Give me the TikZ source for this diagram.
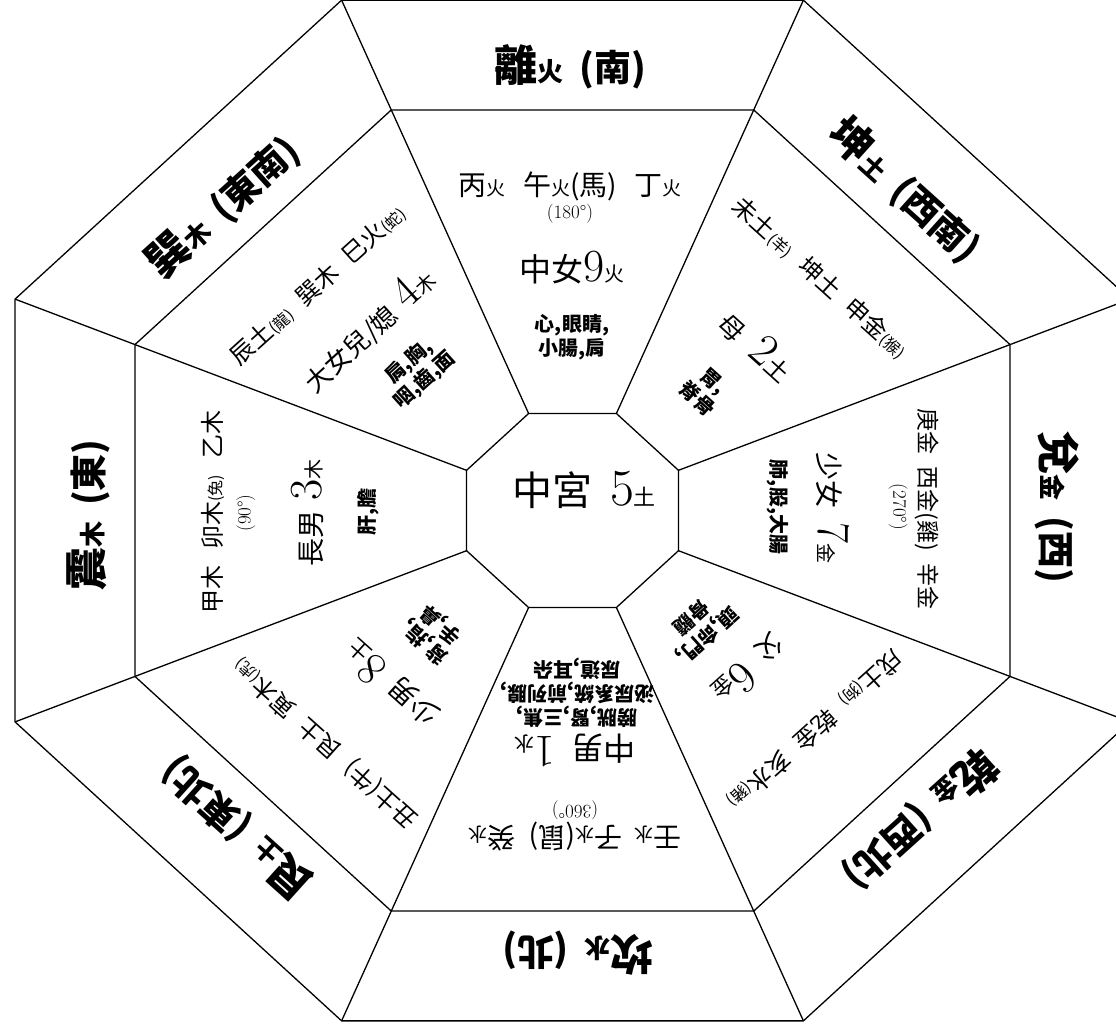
\documentclass[tikz,border=0pt]{standalone}
\usepackage{fontspec}
\newfontfamily\tc{Noto Sans CJK TC}
\newcommand\fsz[1]{\fontsize{#1}{#1}\selectfont}
\newcommand\gtitle[3]{\bfseries\fsz{43}#1\fsz{26}#2\hspace{16pt}\fsz{37}(#3)}
\newcommand\bignum[1]{{\rmfamily\fsz{46}#1}}
\newcommand\degr[1]{{\rmfamily\fsz{19}(#1°)}}
\begin{document}
\begin{tikzpicture}[x=1pt,y=-1pt,
  ln/.style={line width=1.3pt, line join=miter},
  tx/.style={inner sep=0pt, font=\tc, align=center},
  org/.style={inner sep=0pt, align=center, font=\tc\bfseries\fontsize{20}{24}\selectfont}]
\useasboundingbox (0,0) rectangle (1116,1028);
\clip (0,0) rectangle (1116,1028);
\begin{scope}[shift={(572.5,510.5)}, yscale=0.9155]
\foreach \k in {1,...,8}{
  \coordinate (i\k) at ({22.5+45*\k}:114.7);
  \coordinate (m\k) at ({22.5+45*\k}:473.6);
  \coordinate (o\k) at ({22.5+45*\k}:603.4);
}
\end{scope}
\draw[ln] (i1)--(i2)--(i3)--(i4)--(i5)--(i6)--(i7)--(i8)--cycle;
\draw[ln] (m1)--(m2)--(m3)--(m4)--(m5)--(m6)--(m7)--(m8)--cycle;
\draw[ln] (o1)--(o2)--(o3)--(o4)--(o5)--(o6)--(o7)--(o8)--cycle;
\foreach \k in {1,...,8}{ \draw[ln] (i\k)--(o\k); }

% South
\node[tx] (sT) at (570,67) {\gtitle{離}{火}{南}};
\node[tx] (s1) at (570,186) {\fsz{28}丙\fsz{19}火\hspace{18pt}\fsz{28}午\fsz{19}火\fsz{28}(馬)\hspace{18pt}丁\fsz{19}火};
\node[tx] (s2) at (570,214) {\degr{180}};
\node[tx] (s3) at (572,268) {\fsz{32}中女\bignum{9}\fsz{20}火};
\node[org] (s4) at (572,337) {心,眼睛,\\小腸,肩};

% South-west
\node[tx,rotate=-42] (swT) at (905,190) {\gtitle{坤}{土}{西南}};
\node[tx,rotate=-42] (sw1) at (820,278) {\fsz{24}未土\fsz{16}(羊)\hspace{14pt}\fsz{24}坤土\hspace{14pt}申金\fsz{16}(猴)};
\node[tx,rotate=-42] (sw2) at (757,345) {\fsz{26}母\hspace{16pt}\bignum{2}\fsz{24}土};
\node[org,rotate=-42] (sw3) at (705,390) {胃,\\脊骨};

% West
\node[tx,rotate=-90] (wT) at (1057,507) {\gtitle{兌}{金}{西}};
\node[tx,rotate=-90] (w1) at (927,509) {\fsz{23}庚金\hspace{12pt}西金(雞)\hspace{12pt}辛金};
\node[tx,rotate=-90] (w2) at (898,507) {\degr{270}};
\node[tx,rotate=-90] (w3) at (833,508) {\fsz{28}少女\hspace{14pt}\bignum{7}\fsz{20}金};
\node[org,rotate=-90] (w4) at (778,507) {肺,股,大腸};

% North-west
\node[tx,rotate=-138] (nwT) at (920,820) {\gtitle{乾}{金}{西北}};
\node[tx,rotate=-138] (nw1) at (815,730) {\fsz{24}戌土\fsz{16}(狗)\hspace{14pt}\fsz{24}乾金\hspace{14pt}亥水\fsz{16}(豬)};
\node[tx,rotate=-138] (nw2) at (750,670) {\fsz{26}父\hspace{16pt}\bignum{6}\fsz{22}金};
\node[org,rotate=-138] (nw3) at (700,627) {頭,命門,\\骨髓};

% North
\node[tx,rotate=180] (nT) at (578,953) {\gtitle{坎}{水}{北}};
\node[tx,rotate=180] (n1) at (575,837) {\fsz{28}壬\fsz{19}水\hspace{12pt}\fsz{28}子\fsz{19}水\fsz{28}(鼠)\hspace{14pt}癸\fsz{19}水};
\node[tx,rotate=180] (n2) at (575,810) {\degr{360}};
\node[tx,rotate=180] (n3) at (575,750) {\fsz{32}中男\hspace{16pt}\bignum{1}\fsz{20}水};
\node[org,rotate=180] (n4) at (577,693) {膀胱,腎,三焦,\\泌尿系統,前列腺,\\尿道,耳朵};

% North-east
\node[tx,rotate=138] (neT) at (237,828) {\gtitle{艮}{土}{東北}};
\node[tx,rotate=138] (ne1) at (325,743) {\fsz{24}丑土(牛)\hspace{14pt}艮土\hspace{14pt}寅木\fsz{16}(虎)};
\node[tx,rotate=138] (ne2) at (390,685) {\fsz{28}少男\hspace{14pt}\bignum{8}\fsz{22}土};
\node[org,rotate=138] (ne3) at (433,633) {背,指,\\手,鼻};

% East
\node[tx,rotate=90] (eT) at (88,515) {\gtitle{震}{木}{東}};
\node[tx,rotate=90] (e1) at (213,512) {\fsz{24}甲木\hspace{16pt}卯木\fsz{16}(兔)\hspace{16pt}\fsz{24}乙木};
\node[tx,rotate=90] (e2) at (246,513) {\degr{90}};
\node[tx,rotate=90] (e3) at (307,513) {\fsz{28}長男\hspace{10pt}\bignum{3}\fsz{20}木};
\node[org,rotate=90] (e4) at (368,512) {肝,膽};

% South-east
\node[tx,rotate=42] (seT) at (223,207) {\gtitle{巽}{木}{東南}};
\node[tx,rotate=42] (se1) at (318,285) {\fsz{24}辰土\fsz{16}(龍)\hspace{14pt}\fsz{24}巽木\hspace{14pt}巳火\fsz{16}(蛇)};
\node[tx,rotate=42] (se2) at (368,329) {\fsz{26}大女兒/媳\hspace{10pt}\bignum{4}\fsz{20}木};
\node[org,rotate=42] (se3) at (417,371) {肩,胸,\\咽,齒,面};

% Centre
\node[tx] (cT) at (584,490) {\fsz{40}中宮\hspace{18pt}{\rmfamily\fsz{52}5}\fsz{22}土};
\end{tikzpicture}
\end{document}
